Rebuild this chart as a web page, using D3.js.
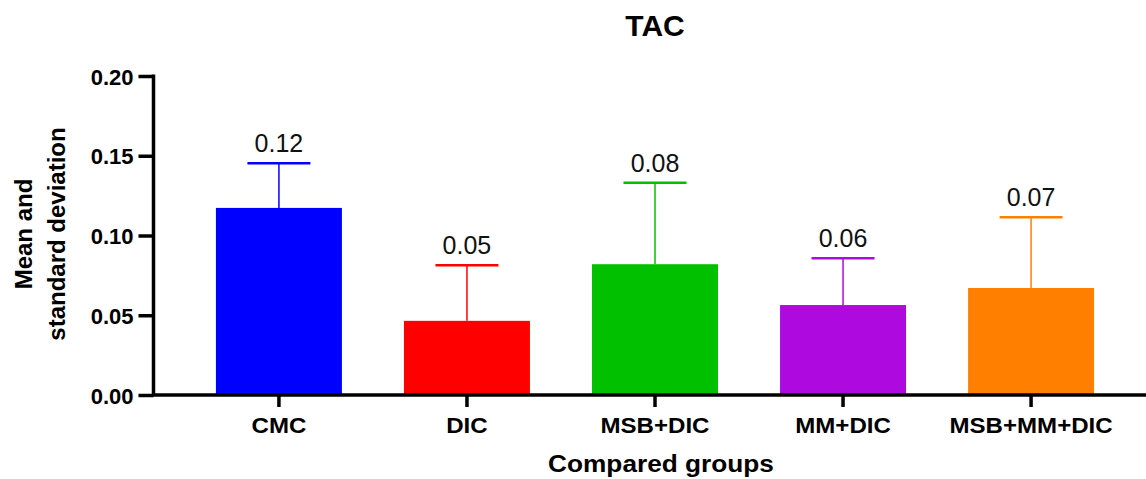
<!DOCTYPE html>
<html>
<head>
<meta charset="utf-8">
<script src="https://cdn.jsdelivr.net/npm/d3@7"></script>
<style>
  body { margin: 0; background: #fff; }
  svg text { font-family: "Liberation Sans", Arial, sans-serif; }
</style>
</head>
<body>
<div id="chart"></div>
<script>
var width = 1146;
var height = 479;

// data
var groups = ["CMC", "DIC", "MSB+DIC", "MM+DIC", "MSB+MM+DIC"];
var means = [0.1173, 0.0465, 0.0820, 0.0564, 0.0671];
var sds = [0.0280, 0.0348, 0.0511, 0.0293, 0.0444];
var valueLabels = ["0.12", "0.05", "0.08", "0.06", "0.07"];
var barColors = ["#0000ff", "#ff0000", "#00c000", "#ae0ae0", "#ff8000"];
var yTicks = [0, 0.05, 0.10, 0.15, 0.20];

var svg = d3.select("#chart")
    .append("svg")
    .attr("width", width)
    .attr("height", height);

var x = d3.scaleBand()
    .domain(groups)
    .range([155, 1155])
    .paddingInner(0.33)
    .paddingOuter(0.324);

var y = d3.scaleLinear()
    .domain([0, 0.2])
    .range([395, 76]);

// bars
svg.append("g").selectAll("rect")
    .data(groups)
    .enter()
    .append("rect")
    .attr("x", d => x(d))
    .attr("y", (d, i) => y(means[i]))
    .attr("width", x.bandwidth())
    .attr("height", (d, i) => y(0) - y(means[i]))
    .style("fill", (d, i) => barColors[i]);

// error bars (upper only)
var err = svg.append("g").selectAll("g")
    .data(groups)
    .enter()
    .append("g");

err.append("line")
    .attr("x1", d => x(d) + x.bandwidth() / 2)
    .attr("x2", d => x(d) + x.bandwidth() / 2)
    .attr("y1", (d, i) => y(means[i]))
    .attr("y2", (d, i) => y(means[i] + sds[i]))
    .style("stroke", (d, i) => barColors[i])
    .style("stroke-width", 1.5);

err.append("line")
    .attr("x1", d => x(d) + x.bandwidth() / 4)
    .attr("x2", d => x(d) + x.bandwidth() * 3 / 4)
    .attr("y1", (d, i) => y(means[i] + sds[i]))
    .attr("y2", (d, i) => y(means[i] + sds[i]))
    .style("stroke", (d, i) => barColors[i])
    .style("stroke-width", 2.5);

err.append("text")
    .attr("x", d => x(d) + x.bandwidth() / 2)
    .attr("y", (d, i) => y(means[i] + sds[i]) - 11)
    .attr("text-anchor", "middle")
    .style("font-size", "25px")
    .style("fill", "#111")
    .text((d, i) => valueLabels[i]);

// y axis
var yAxis = svg.append("g")
    .attr("transform", "translate(153.5,0)")
    .call(d3.axisLeft(y).tickValues(yTicks).tickFormat(d3.format(".2f"))
        .tickSize(15).tickSizeOuter(0).tickPadding(5));
yAxis.select(".domain").style("stroke", "#000").style("stroke-width", 3.5)
    .attr("d", "M0," + (y(0.2) - 1.5) + "V" + y(0));
yAxis.selectAll(".tick line").style("stroke", "#000").style("stroke-width", 3.5);
yAxis.selectAll(".tick text")
    .attr("dy", "0.37em")
    .style("font-size", "22px")
    .style("font-weight", "bold")
    .style("fill", "#000");

// x axis
var xAxis = svg.append("g")
    .attr("transform", "translate(0," + y(0) + ")")
    .call(d3.axisBottom(x).tickSize(12).tickSizeOuter(0));
xAxis.select(".domain").remove();
xAxis.append("line")
    .attr("x1", 152)
    .attr("x2", width)
    .style("stroke", "#000")
    .style("stroke-width", 3.5);
xAxis.selectAll(".tick line").style("stroke", "#000").style("stroke-width", 3.5);
xAxis.selectAll(".tick text")
    .attr("y", 38)
    .attr("dy", 0)
    .attr("transform", "scale(1.12,1)")
    .style("font-size", "21.5px")
    .style("font-weight", "bold")
    .style("fill", "#000");

// title
svg.append("text")
    .attr("x", 655)
    .attr("y", 36)
    .attr("text-anchor", "middle")
    .style("font-size", "30px")
    .style("font-weight", "bold")
    .text("TAC");

// x axis title
svg.append("text")
    .attr("transform", "translate(661,472) scale(1.14,1)")
    .attr("text-anchor", "middle")
    .style("font-size", "23px")
    .style("font-weight", "bold")
    .text("Compared groups");

// y axis title, two lines
var yTitle = svg.append("text")
    .attr("transform", "translate(0,234) rotate(-90)")
    .attr("text-anchor", "middle")
    .style("font-size", "24px")
    .style("font-weight", "bold");
yTitle.append("tspan").attr("x", 0).attr("y", 32).text("Mean and");
yTitle.append("tspan").attr("x", 0).attr("y", 65).text("standard deviation");
</script>
</body>
</html>
